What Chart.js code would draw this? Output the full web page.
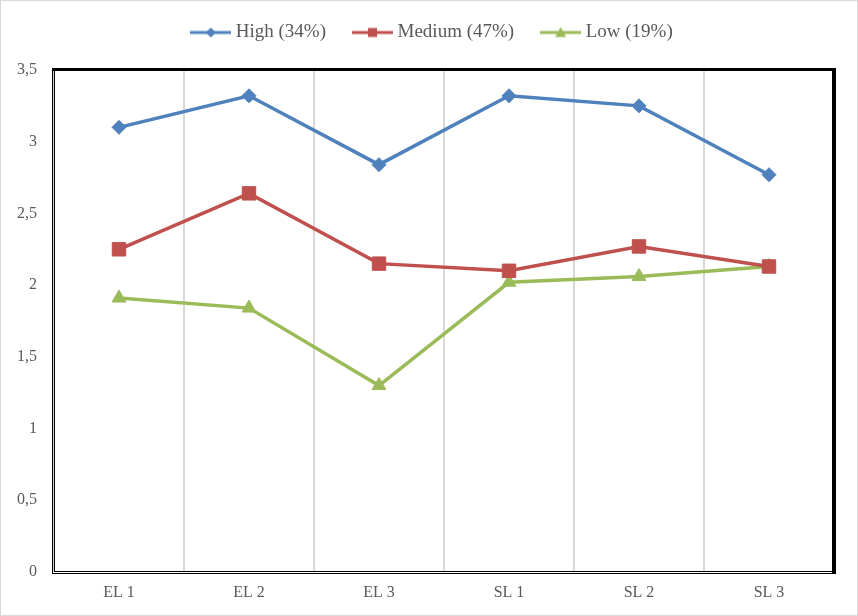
<!DOCTYPE html>
<html>
<head>
<meta charset="utf-8">
<script src="https://cdn.jsdelivr.net/npm/chart.js@4/dist/chart.umd.min.js"></script>
<style>
  html, body { margin: 0; padding: 0; background: #fff; }
  #wrap { width: 858px; height: 616px; position: relative; }
</style>
</head>
<body>
<div id="wrap"><canvas id="levelChart"></canvas></div>
<script>
const categories = ['EL 1', 'EL 2', 'EL 3', 'SL 1', 'SL 2', 'SL 3'];
const seriesNames = ['High (34%)', 'Medium (47%)', 'Low (19%)'];
const highValues = [3.10, 3.32, 2.84, 3.32, 3.25, 2.77];
const mediumValues = [2.25, 2.64, 2.15, 2.10, 2.27, 2.13];
const lowValues = [1.91, 1.84, 1.30, 2.02, 2.06, 2.13];
const yTicks = [0, 0.5, 1, 1.5, 2, 2.5, 3, 3.5];

const FONT = '"Liberation Serif", "Times New Roman", serif';
const TEXT = '#595959';

// legend icon: short line with the marker in the middle
function legendIcon(color, shape) {
  const c = document.createElement('canvas');
  c.width = 41;
  c.height = 14;
  const ctx = c.getContext('2d');
  ctx.strokeStyle = color;
  ctx.fillStyle = color;
  ctx.lineWidth = 3;
  ctx.beginPath();
  ctx.moveTo(0, 7);
  ctx.lineTo(41, 7);
  ctx.stroke();
  ctx.beginPath();
  if (shape === 'diamond') {
    ctx.moveTo(20.5, 2); ctx.lineTo(25.5, 7); ctx.lineTo(20.5, 12); ctx.lineTo(15.5, 7);
  } else if (shape === 'square') {
    ctx.rect(16, 2.5, 9, 9);
  } else {
    ctx.moveTo(20.5, 1.5); ctx.lineTo(26, 11.5); ctx.lineTo(15, 11.5);
  }
  ctx.closePath();
  ctx.fill();
  return c;
}

const icons = [
  legendIcon('#4F81BD', 'diamond'),
  legendIcon('#C0504D', 'square'),
  legendIcon('#9BBB59', 'triangle')
];

// white background, outer frame and the plot area border
const framePlugin = {
  id: 'frame',
  afterInit(chart) {
    // leave more room between the legend and the plot area
    const fit = chart.legend.fit;
    chart.legend.fit = function () {
      fit.call(this);
      this.height += 18;
    };
  },
  afterLayout(chart) {
    // centre the legend on the whole canvas, not on the padded area
    chart.legend.left += 17;
    chart.legend.right += 17;
  },
  beforeDraw(chart) {
    const ctx = chart.ctx;
    ctx.save();
    ctx.fillStyle = '#ffffff';
    ctx.fillRect(0, 0, chart.width, chart.height);
    ctx.strokeStyle = '#d9d9d9';
    ctx.lineWidth = 1;
    ctx.strokeRect(0.5, 0.5, chart.width - 1, chart.height - 1);
    ctx.restore();
  },
  beforeDatasetsDraw(chart) {
    const left = Math.round(chart.chartArea.left);
    const right = Math.round(chart.chartArea.right);
    const top = Math.round(chart.chartArea.top);
    const bottom = Math.round(chart.chartArea.bottom);
    const ctx = chart.ctx;
    ctx.save();
    ctx.fillStyle = '#000000';
    // double line left and bottom
    ctx.fillRect(left - 2, top, 1, bottom - top + 2);
    ctx.fillRect(left, top, 1, bottom - top);
    ctx.fillRect(left - 2, bottom + 1, right - left + 2, 1);
    ctx.fillRect(left, bottom - 1, right - left, 1);
    // thick line top and right
    ctx.fillRect(left - 2, top - 2, right - left + 4, 3);
    ctx.fillRect(right - 2, top - 2, 4, bottom - top + 4);
    ctx.restore();
  }
};

const ctx = document.getElementById('levelChart').getContext('2d');

new Chart(ctx, {
  type: 'line',
  data: {
    labels: categories,
    datasets: [{
      label: seriesNames[0],
      data: highValues,
      borderColor: '#4F81BD',
      backgroundColor: '#4F81BD',
      borderWidth: 3.5,
      pointStyle: 'rectRot',
      pointRadius: 7,
      pointBorderWidth: 1,
      tension: 0
    }, {
      label: seriesNames[1],
      data: mediumValues,
      borderColor: '#C0504D',
      backgroundColor: '#C0504D',
      borderWidth: 3.5,
      pointStyle: 'rect',
      pointRadius: 9.5,
      pointBorderWidth: 1,
      tension: 0
    }, {
      label: seriesNames[2],
      data: lowValues,
      borderColor: '#9BBB59',
      backgroundColor: '#9BBB59',
      borderWidth: 3.5,
      pointStyle: 'triangle',
      pointRadius: 8,
      pointBorderWidth: 1,
      tension: 0
    }]
  },
  options: {
    responsive: true,
    maintainAspectRatio: false,
    animation: false,
    layout: {
      padding: { top: -8, left: 0, right: 24, bottom: 0 }
    },
    plugins: {
      legend: {
        position: 'top',
        labels: {
          usePointStyle: true,
          pointStyleWidth: 31,
          padding: 31,
          color: TEXT,
          font: { size: 19, family: FONT },
          generateLabels: function (chart) {
            return chart.data.datasets.map((ds, i) => ({
              text: ds.label,
              fillStyle: ds.borderColor,
              strokeStyle: ds.borderColor,
              pointStyle: icons[i],
              fontColor: TEXT,
              lineWidth: 0,
              hidden: false,
              datasetIndex: i
            }));
          }
        }
      },
      tooltip: { enabled: false }
    },
    scales: {
      y: {
        min: 0,
        max: 3.5,
        afterBuildTicks: function (scale) {
          scale.ticks = yTicks.map(v => ({ value: v }));
        },
        afterFit: function (scale) {
          scale.width = 54;
        },
        ticks: {
          color: TEXT,
          padding: 17,
          font: { size: 16, family: FONT },
          callback: function (value) {
            return String(value).replace('.', ',');
          }
        },
        grid: { display: false, drawTicks: false },
        border: { display: false }
      },
      x: {
        offset: true,
        afterFit: function (scale) {
          scale.height = 44;
        },
        ticks: {
          color: TEXT,
          padding: 11,
          maxRotation: 0,
          font: { size: 16, family: FONT }
        },
        grid: {
          offset: true,
          color: '#d9d9d9',
          lineWidth: 2,
          drawTicks: false
        },
        border: { display: false }
      }
    }
  },
  plugins: [framePlugin]
});
</script>
</body>
</html>
